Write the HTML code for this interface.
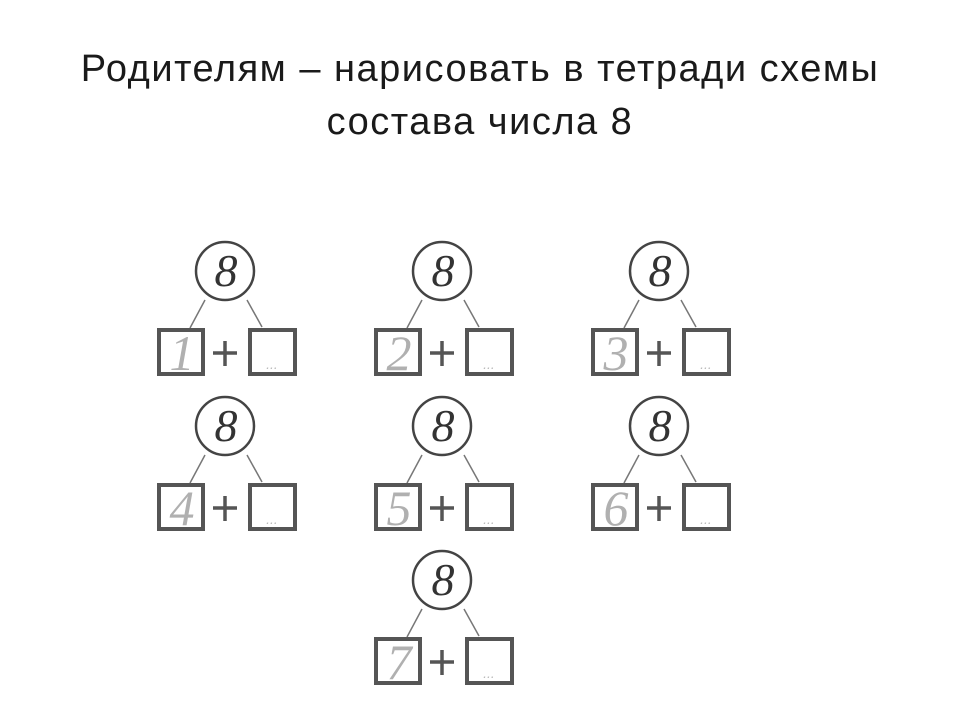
<!DOCTYPE html>
<html><head><meta charset="utf-8"><style>
html,body{margin:0;padding:0;background:#fff;}
body{width:960px;height:720px;overflow:hidden;position:relative;}
.t{position:absolute;left:0;width:960px;text-align:center;font-family:"Liberation Sans",sans-serif;font-size:38px;letter-spacing:1.5px;color:#1a1a1a;}
</style></head><body>
<div class="t" style="top:48px">Родителям – нарисовать в тетради схемы</div>
<div class="t" style="top:101px">состава числа 8</div>
<svg width="960" height="720" style="position:absolute;left:0;top:0">
<defs>
<g id="d">
<circle cx="0" cy="0" r="29" fill="none" stroke="#444" stroke-width="2.5"/>
<text x="1" y="15" text-anchor="middle" font-family="Liberation Serif,serif" font-style="italic" font-size="46" fill="#333">8</text>
<line x1="-20" y1="29" x2="-35" y2="57" stroke="#777" stroke-width="1.5"/>
<line x1="22" y1="29" x2="37" y2="56" stroke="#777" stroke-width="1.5"/>
<rect x="-66" y="59" width="44" height="44" fill="none" stroke="#555" stroke-width="4"/>
<rect x="25" y="59" width="45" height="44" fill="none" stroke="#555" stroke-width="4"/>
<line x1="-12" y1="82" x2="12" y2="82" stroke="#555" stroke-width="3.5"/>
<line x1="0" y1="70" x2="0" y2="95" stroke="#555" stroke-width="3.5"/>
<text x="47" y="98" text-anchor="middle" font-family="Liberation Sans,sans-serif" font-size="14" fill="#bbb">...</text>
</g>
</defs>
<g font-family="Liberation Serif,serif" font-style="italic" font-size="50" fill="#b0b0b0" text-anchor="middle">
<use href="#d" x="225" y="271"/><text x="182" y="370">1</text>
<use href="#d" x="442" y="271"/><text x="399" y="370">2</text>
<use href="#d" x="659" y="271"/><text x="616" y="370">3</text>
<use href="#d" x="225" y="426"/><text x="182" y="525">4</text>
<use href="#d" x="442" y="426"/><text x="399" y="525">5</text>
<use href="#d" x="659" y="426"/><text x="616" y="525">6</text>
<use href="#d" x="442" y="580"/><text x="399" y="679">7</text>
</g>
</svg>
</body></html>
